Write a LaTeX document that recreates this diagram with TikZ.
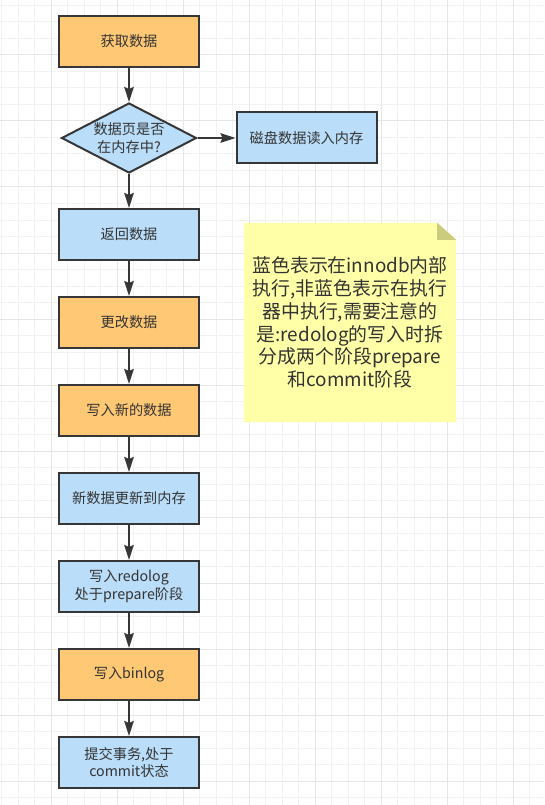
\documentclass[tikz,border=0pt]{standalone}
\usepackage{fontspec}
\setmainfont{Noto Sans CJK SC}
\usetikzlibrary{shapes.geometric, arrows.meta, positioning}
\definecolor{chengse}{HTML}{FFC875}
\definecolor{lanse}{HTML}{BADDF9}
\definecolor{huangse}{HTML}{FFFFA8}
\definecolor{zhese}{HTML}{CCCC7F}
\definecolor{xianse}{HTML}{363636}
\definecolor{ziti}{HTML}{333333}
\definecolor{wangge}{HTML}{F2F2F2}
\definecolor{wanggecu}{HTML}{E6E6E6}
\pgfdeclarelayer{grid}
\pgfdeclarelayer{background}
\pgfsetlayers{grid,background,main}
\tikzstyle{innodb} = [rectangle, minimum width=140pt, minimum height=51pt, text centered, align=center, draw=xianse, line width=2pt, fill=lanse, text=ziti, font=\fontsize{14.2pt}{17.5pt}\selectfont]
\tikzstyle{zhixingqi} = [innodb, fill=chengse]
\tikzstyle{decision} = [diamond, aspect=1.93, minimum width=135pt, minimum height=70pt, inner sep=0pt, align=center, draw=xianse, line width=2pt, fill=lanse, text=ziti, font=\fontsize{14.2pt}{17.5pt}\selectfont]
\tikzstyle{zhushi} = [rectangle, minimum width=212pt, minimum height=199pt, inner sep=0pt, align=center, text=ziti, font=\fontsize{18.9pt}{22.7pt}\selectfont]
\tikzstyle{arrow} = [line width=2pt, draw=xianse, -{Stealth[length=15pt, width=9.5pt, inset=2pt]}]
\begin{document}
\begin{tikzpicture}[x=1pt, y=1pt, node distance=88pt]

			\useasboundingbox (0,0) rectangle (544,-805);
			\begin{pgfonlayer}{grid}
				\fill[white] (0,0) rectangle (544,-805);
				\foreach \k in {1,...,34} \draw[wangge, line width=1pt] (-15+16.5*\k,0) -- ++(0,-805);
				\foreach \k in {1,...,49} \draw[wangge, line width=1pt] (0,11-16.5*\k) -- ++(544,0);
				\foreach \k in {1,...,8} \draw[wanggecu, line width=1pt] (-15+66*\k,0) -- ++(0,-805);
				\foreach \k in {1,...,12} \draw[wanggecu, line width=1pt] (0,11-66*\k) -- ++(544,0);
			\end{pgfonlayer}

			\node (huoqu) [zhixingqi] at (129,-41.5) {获取数据};
			\node (panduan) [decision, below of=huoqu, yshift=-8.5pt] {数据页是否\\在内存中?};
			\node (cipan) [innodb, right of=panduan, xshift=89.5pt] {磁盘数据读入内存};
			\node (fanhui) [innodb, below of=panduan, yshift=-8.5pt] {返回数据};
			\node (gengai) [zhixingqi, below of=fanhui] {更改数据};
			\node (xierushuju) [zhixingqi, below of=gengai] {写入新的数据};
			\node (gengxin) [innodb, below of=xierushuju] {新数据更新到内存};
			\node (xieruredo) [innodb, below of=gengxin] {写入redolog\\处于prepare阶段};
			\node (xierubin) [zhixingqi, below of=xieruredo] {写入binlog};
			\node (tijiao) [innodb, below of=xierubin] {提交事务,处于\\commit状态};

			\node (zhu) [zhushi, right of=gengai, xshift=133pt] {蓝色表示在innodb内部\\执行,非蓝色表示在执行\\器中执行,需要注意的\\是:redolog的写入时拆\\分成两个阶段prepare\\和commit阶段};
			\begin{pgfonlayer}{background}
				\fill[huangse] (zhu.north west) -- ([xshift=-19pt]zhu.north east) -- ([yshift=-17pt]zhu.north east) -- (zhu.south east) -- (zhu.south west) -- cycle;
				\fill[zhese] ([xshift=-19pt]zhu.north east) -- ([xshift=-19pt, yshift=-17pt]zhu.north east) -- ([yshift=-17pt]zhu.north east) -- cycle;
			\end{pgfonlayer}

			\draw [arrow] (huoqu) -- (panduan);
			\draw [arrow] (panduan) -- (cipan);
			\draw [arrow] (panduan) -- (fanhui);
			\draw [arrow] (fanhui) -- (gengai);
			\draw [arrow] (gengai) -- (xierushuju);
			\draw [arrow] (xierushuju) -- (gengxin);
			\draw [arrow] (gengxin) -- (xieruredo);
			\draw [arrow] (xieruredo) -- (xierubin);
			\draw [arrow] (xierubin) -- (tijiao);

		\end{tikzpicture}
\end{document}
